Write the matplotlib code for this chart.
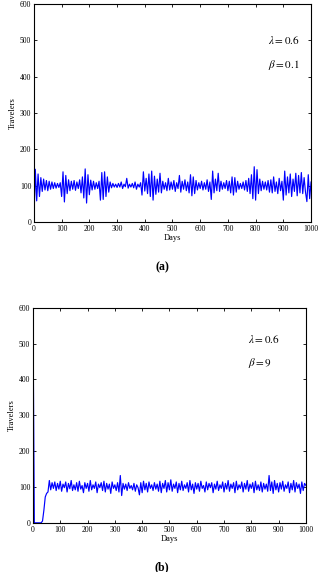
import matplotlib
matplotlib.use("Agg")
import matplotlib.pyplot as plt
import numpy as np

plt.rcParams["font.family"] = ["Liberation Serif", "DejaVu Serif"]
plt.rcParams["mathtext.fontset"] = "stix"

days = np.arange(0, 1001, 5)

# travellers, panel (a): lambda = 0.6, beta = 0.1 (read every 5 days)
travellers_a = [
    0, 145, 58, 132, 70, 122, 84, 118, 88, 114,
    86, 112, 90, 110, 92, 108, 93, 106, 95, 108,
    70, 138, 55, 128, 78, 116, 86, 112, 90, 114,
    87, 110, 92, 116, 80, 124, 66, 146, 52, 130,
    75, 115, 88, 112, 90, 108, 92, 112, 60, 136,
    62, 138, 70, 124, 82, 110, 94, 106, 96, 104,
    95, 106, 96, 110, 92, 104, 97, 120, 93, 104,
    96, 106, 94, 110, 90, 104, 96, 108, 74, 138,
    85, 120, 78, 132, 70, 140, 60, 126, 76, 118,
    82, 134, 80, 112, 90, 108, 86, 120, 88, 110,
    90, 114, 84, 108, 92, 128, 82, 112, 90, 116,
    86, 110, 80, 130, 72, 124, 78, 114, 88, 108,
    92, 112, 88, 108, 90, 116, 84, 110, 62, 140,
    80, 118, 86, 134, 84, 112, 90, 108, 92, 114,
    86, 112, 80, 124, 74, 122, 82, 112, 90, 106,
    92, 110, 88, 114, 84, 120, 78, 130, 64, 152,
    60, 144, 78, 118, 86, 112, 90, 110, 88, 114,
    82, 116, 80, 124, 84, 110, 78, 120, 86, 112,
    60, 140, 74, 124, 80, 132, 70, 118, 84, 134,
    72, 128, 80, 136, 78, 122, 82, 56, 130, 64,
    110,
]

# travellers, panel (b): lambda = 0.6, beta = 9
travellers_b = [
    600, 0, 0, 0, 0, 0, 0, 5, 35, 72,
    82, 86, 118, 92, 112, 96, 114, 90, 110, 94,
    116, 88, 108, 98, 114, 86, 110, 95, 118, 90,
    106, 92, 112, 88, 116, 94, 104, 84, 112, 96,
    110, 88, 118, 92, 106, 96, 114, 84, 108, 98,
    112, 90, 116, 86, 110, 94, 108, 82, 114, 96,
    106, 90, 112, 86, 132, 76, 110, 94, 108, 90,
    112, 96, 104, 92, 110, 88, 106, 98, 78, 112,
    84, 116, 92, 110, 86, 114, 96, 106, 90, 112,
    94, 108, 88, 116, 84, 110, 96, 118, 86, 112,
    92, 120, 88, 108, 96, 114, 84, 110, 92, 116,
    90, 106, 96, 112, 86, 118, 92, 108, 82, 112,
    94, 110, 88, 116, 96, 104, 86, 114, 92, 110,
    98, 112, 84, 108, 94, 116, 90, 106, 96, 114,
    86, 110, 94, 118, 88, 108, 96, 112, 84, 116,
    92, 106, 96, 114, 86, 110, 94, 118, 88, 108,
    96, 112, 84, 116, 92, 106, 90, 114, 86, 110,
    94, 108, 88, 132, 90, 114, 82, 118, 92, 110,
    86, 112, 94, 116, 88, 106, 96, 114, 84, 110,
    92, 118, 86, 112, 96, 108, 82, 114, 90, 110,
    104,
]

panels = [
    # values, axes rect, caption, lambda text, beta text, text positions, caption y
    (travellers_a, [0.106, 0.612, 0.866, 0.381], "(a)", r"$\lambda=0.6$", r"$\beta=0.1$", (845, 501), (845, 433), 0.533),
    (travellers_b, [0.103, 0.086, 0.853, 0.376], "(b)", r"$\lambda=0.6$", r"$\beta=9$", (788, 514), (788, 447), 0.009),
]

fig = plt.figure(figsize=(3.2, 5.72), dpi=100)

for values, rect, caption, lam_txt, beta_txt, lam_pos, beta_pos, cap_y in panels:
    ax = fig.add_axes(rect)
    ax.plot(days, values, color="#0000ff", linewidth=0.85)
    ax.set_xlim(0, 1000)
    ax.set_ylim(0, 600)
    ax.set_xticks(np.arange(0, 1001, 100))
    ax.set_yticks(np.arange(0, 601, 100))
    ax.tick_params(direction="in", length=2.5, width=0.6, labelsize=5.5, pad=2,
                   top=True, right=True)
    for sp in ax.spines.values():
        sp.set_linewidth(0.8)
    ax.set_xlabel("Days", fontsize=6, labelpad=1)
    ax.set_ylabel("Travelers", fontsize=6, labelpad=2)
    ax.text(*lam_pos, lam_txt, fontsize=8, va="center")
    ax.text(*beta_pos, beta_txt, fontsize=8, va="center")
    fig.text(0.507, cap_y, caption, fontsize=8.5, fontweight="bold",
             family="Liberation Serif", ha="center", va="center")

fig.savefig("out.png", dpi=100)
